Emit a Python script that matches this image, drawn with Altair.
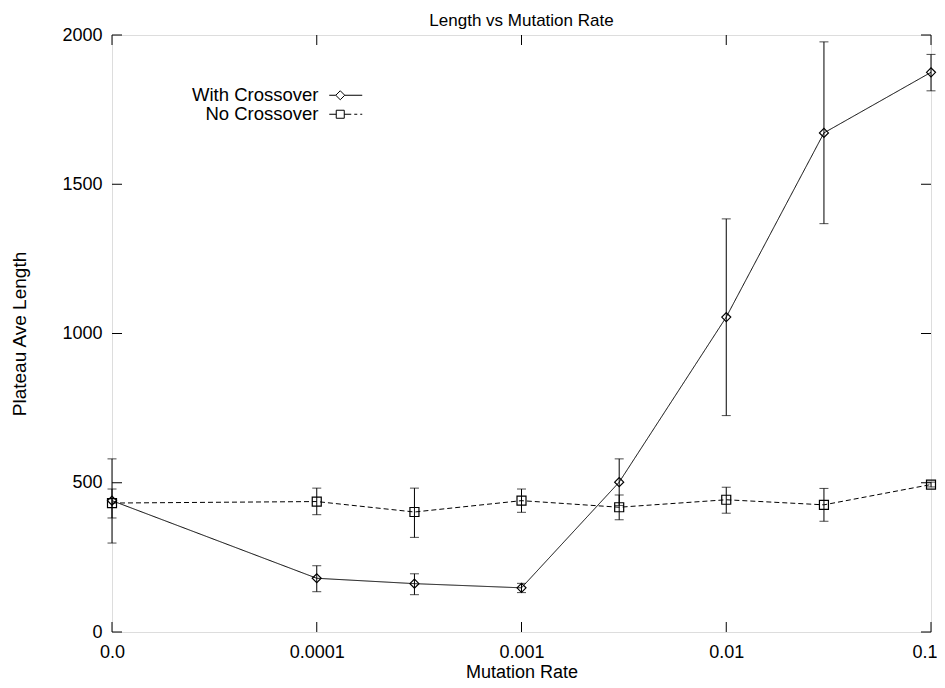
import altair as alt
import pandas as pd

# ---- data ----
rates = [0.0, 0.0001, 0.0003, 0.001, 0.003, 0.01, 0.03, 0.1]
series_names = ["With Crossover", "No Crossover"]

with_mean = [440, 180, 162, 148, 502, 1055, 1672, 1875]
with_lo = [298, 135, 125, 132, 424, 725, 1368, 1813]
with_hi = [580, 222, 195, 163, 580, 1384, 1977, 1935]

no_mean = [432, 437, 402, 440, 418, 443, 426, 494]
no_lo = [382, 393, 317, 401, 376, 398, 371, 486]
no_hi = [479, 482, 482, 479, 459, 485, 481, 502]

x_tick_values = [0.00001, 0.0001, 0.001, 0.01, 0.1]
x_tick_labels = ["0.0", "0.0001", "0.001", "0.01", "0.1"]
y_tick_values = [0, 500, 1000, 1500, 2000]

ZERO_POS = 0.00001  # where rate 0.0 is drawn on the log axis

rows = []
for name, m, lo, hi in [(series_names[0], with_mean, with_lo, with_hi),
                        (series_names[1], no_mean, no_lo, no_hi)]:
    for r, a, b, c in zip(rates, m, lo, hi):
        rows.append({"rate": r, "series": name, "mean": a, "lo": b, "hi": c})
df = pd.DataFrame(rows)

W, H = 819, 597
FONT = "Liberation Sans"
FS = 18

label_expr = ""
for v, l in zip(x_tick_values, x_tick_labels):
    label_expr += f"abs(log(datum.value) - log({v})) < 0.01 ? '{l}' : "
label_expr += "''"

xscale = alt.Scale(type="log", domain=[ZERO_POS, 0.1], nice=False)
yscale = alt.Scale(domain=[0, 2000], nice=False)

xenc = alt.X("xpos:Q", scale=xscale,
             axis=alt.Axis(values=x_tick_values, labelExpr=label_expr, title="Mutation Rate",
                           ticks=False, domain=False, grid=False, labelFlush=False,
                           labelOverlap=False,
                           labelAlign={"condition": {"test": "datum.value > 0.05", "value": "right"},
                                       "value": "center"},
                           labelOffset={"condition": {"test": "datum.value > 0.05", "value": 6},
                                        "value": 0},
                           labelPadding=11, labelFontSize=FS, titleFontSize=FS,
                           titlePadding=2, labelFont=FONT, titleFont=FONT,
                           labelColor="black", titleColor="black", titleFontWeight="normal"))
yenc = alt.Y("mean:Q", scale=yscale,
             axis=alt.Axis(values=y_tick_values, format="d", title="Plateau Ave Length",
                           ticks=False, domain=False, grid=False, labelFlush=False,
                           labelOverlap=False, labelPadding=10,
                           labelFontSize=FS, titleFontSize=19, titlePadding=32,
                           labelFont=FONT, titleFont=FONT, labelColor="black",
                           titleColor="black", titleFontWeight="normal"))

base = alt.Chart(df).transform_calculate(
    xpos=f"datum.rate == 0 ? {ZERO_POS} : datum.rate"
)

dash_scale = alt.Scale(domain=series_names, range=[[1, 0], [5, 3]])

lines = base.mark_line(color="black", strokeWidth=1).encode(
    x=xenc, y=yenc,
    strokeDash=alt.StrokeDash("series:N", scale=dash_scale, legend=None),
    detail="series:N",
)

err = base.mark_rule(color="black", strokeWidth=1).encode(
    x=alt.X("xpos:Q", scale=xscale), y=alt.Y("lo:Q", scale=yscale), y2="hi:Q"
)
cap_lo = base.mark_tick(color="black", orient="horizontal", size=9, thickness=1).encode(
    x=alt.X("xpos:Q", scale=xscale), y=alt.Y("lo:Q", scale=yscale)
)
cap_hi = base.mark_tick(color="black", orient="horizontal", size=9, thickness=1).encode(
    x=alt.X("xpos:Q", scale=xscale), y=alt.Y("hi:Q", scale=yscale)
)

points = base.mark_point(filled=False, color="black", size=81, strokeWidth=1.2, opacity=1).encode(
    x=alt.X("xpos:Q", scale=xscale), y=alt.Y("mean:Q", scale=yscale),
    shape=alt.Shape("series:N", scale=alt.Scale(domain=series_names, range=["diamond", "square"]),
                    legend=None),
)

# legend symbols: sample line with marker on it (custom paths, unit = R px)
R = 8.5
def p(x):
    return f"{x / R:.3f}"
with_path = (f"M{p(-16.5)},0H{p(-10)} M{p(-10)},0L{p(-5.5)},{p(-4.5)}L{p(-1)},0L{p(-5.5)},{p(4.5)}Z "
             f"M{p(-1)},0H{p(16.5)}")
no_path = (f"M{p(-16.5)},0H{p(-9.5)} M{p(-9.5)},{p(-4)}H{p(-1.5)}V{p(4)}H{p(-9.5)}Z "
           f"M{p(-1.5)},0H{p(5.5)} M{p(8.5)},0H{p(11.5)} M{p(14.5)},0H{p(16.5)}")

legend_layer = base.transform_filter("false").mark_point(filled=False, color="black").encode(
    x=alt.X("xpos:Q", scale=xscale), y=alt.Y("mean:Q", scale=yscale),
    shape=alt.Shape("series:N",
                    scale=alt.Scale(domain=series_names, range=[with_path, no_path]),
                    legend=alt.Legend(title=None, orient="none", legendX=224.5, legendY=51,
                                      padding=0, labelAlign="right",
                                      labelOffset={"expr": "-36.5"},
                                      symbolSize=R * R * 4, symbolStrokeColor="black",
                                      symbolFillColor="transparent", symbolStrokeWidth=1,
                                      symbolOpacity=1, rowPadding=0, labelFontSize=18.5,
                                      labelFont=FONT, labelColor="black", labelLimit=0)),
)

# inward tick marks on all four sides
xt = alt.Chart(pd.DataFrame({"v": x_tick_values}))
yt = alt.Chart(pd.DataFrame({"v": y_tick_values}))
xticks_b = xt.mark_rule(color="black", strokeWidth=1).encode(
    x=alt.X("v:Q", scale=xscale), y=alt.value(H), y2=alt.value(H - 10))
xticks_t = xt.mark_rule(color="black", strokeWidth=1).encode(
    x=alt.X("v:Q", scale=xscale), y=alt.value(0), y2=alt.value(10))
yticks_l = yt.mark_rule(color="black", strokeWidth=1).encode(
    y=alt.Y("v:Q", scale=yscale), x=alt.value(0), x2=alt.value(10))
yticks_r = yt.mark_rule(color="black", strokeWidth=1).encode(
    y=alt.Y("v:Q", scale=yscale), x=alt.value(W - 10), x2=alt.value(W))

chart = alt.layer(
    xticks_b, xticks_t, yticks_l, yticks_r,
    lines, err, cap_lo, cap_hi, points, legend_layer
).resolve_scale(shape="independent").properties(
    width=W, height=H,
    title=alt.TitleParams("Length vs Mutation Rate", fontSize=17, font=FONT,
                          fontWeight="normal", color="black",
                          baseline="alphabetic", offset=2, dy=19),
    autosize=alt.AutoSizeParams(type="none"),
    padding={"left": 104, "top": 27, "right": 6, "bottom": 50},
).configure_view(stroke="black", strokeWidth=2).configure(background="white")

chart.save("out.html", embed_options={"renderer": "svg", "actions": False})
